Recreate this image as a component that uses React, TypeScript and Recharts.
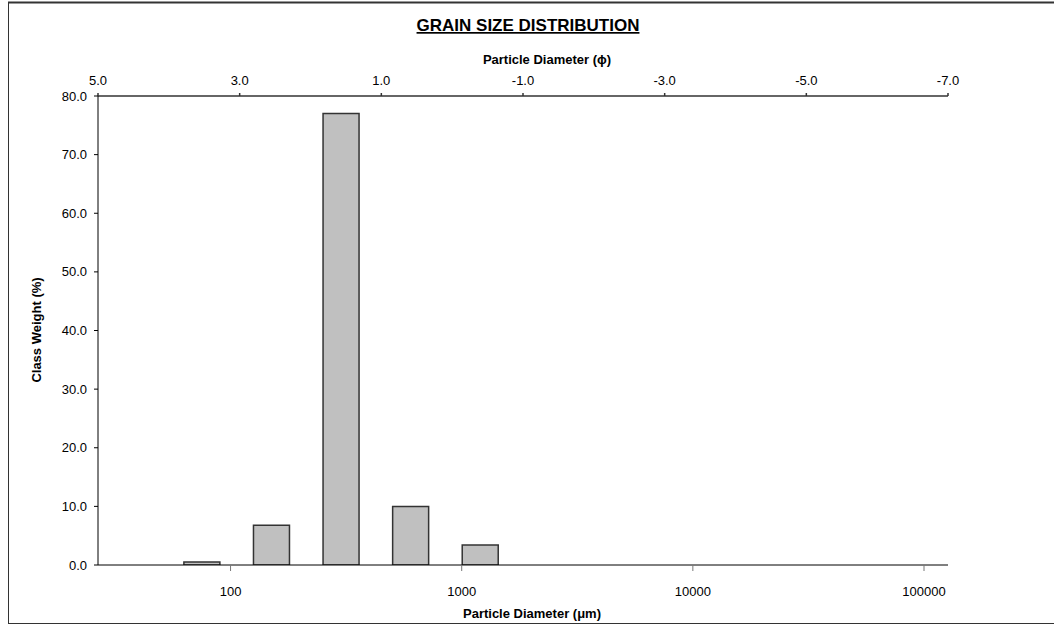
import { ComposedChart, Bar, Scatter, XAxis, YAxis } from 'recharts';

// class midpoints (µm) and weight retained (%)
const sizeClasses = [75, 150, 300, 600, 1200];
const classWeights = [0.5, 6.8, 77.0, 10.0, 3.4];

const phiTicks = [5, 3, 1, -1, -3, -5, -7];
const micronTicks = [100, 1000, 10000, 100000];
const weightTicks = [0, 10, 20, 30, 40, 50, 60, 70, 80];

const data = sizeClasses.map((size, i) => ({ size, weight: classWeights[i] }));
// invisible anchor points so the phi axis has something to scale
const phiAnchors = phiTicks.map((phi) => ({ phi, weight: 0 }));

const font = 'Liberation Sans, Arial, sans-serif';
const tickStyle = { fontSize: 13, fill: '#000', fontFamily: font };

export default function App() {
  return (
    <div style={{ position: 'absolute', left: 0, top: 0, width: 1054, height: 625, background: '#fff', fontFamily: font }}>
      <ComposedChart
        width={1054}
        height={625}
        data={data}
        margin={{ top: 66, right: 106, bottom: 30, left: 38 }}
      >
        <XAxis
          xAxisId="phi"
          dataKey="phi"
          orientation="top"
          type="number"
          domain={[-7, 5]}
          reversed
          ticks={phiTicks}
          tickFormatter={(v: number) => v.toFixed(1)}
          height={30}
          tickSize={3}
          tickMargin={8}
          stroke="#333"
          strokeWidth={1.5}
          tick={tickStyle}
          allowDataOverflow
        />
        <XAxis
          xAxisId="um"
          dataKey="size"
          type="number"
          scale="log"
          domain={[26.7, 127000]}
          ticks={micronTicks}
          allowDataOverflow
          height={30}
          tickSize={6}
          tickMargin={16}
          stroke="#000"
          tick={tickStyle}
          tickLine={{ stroke: '#777' }}
        />
        <YAxis
          yAxisId="w"
          domain={[0, 80]}
          ticks={weightTicks}
          tickFormatter={(v: number) => v.toFixed(1)}
          width={60}
          tickSize={4}
          tickMargin={7}
          stroke="#000"
          tick={tickStyle}
          allowDataOverflow
        />
        <YAxis
          yAxisId="r"
          orientation="right"
          domain={[0, 80]}
          width={0}
          tick={false}
          tickLine={false}
          stroke="#000"
        />
        <Bar
          xAxisId="um"
          yAxisId="w"
          dataKey="weight"
          barSize={36}
          fill="#C0C0C0"
          stroke="#333"
          strokeWidth={1.5}
          isAnimationActive={false}
        />
        <Scatter
          xAxisId="phi"
          yAxisId="w"
          data={phiAnchors}
          dataKey="weight"
          shape={() => <g />}
          legendType="none"
          isAnimationActive={false}
        />
      </ComposedChart>
      <svg
        width={1054}
        height={625}
        style={{ position: 'absolute', left: 0, top: 0, pointerEvents: 'none' }}
      >
        <line x1={8} y1={2.5} x2={1054} y2={2.5} stroke="#333" strokeWidth={2} />
        <line x1={8.5} y1={2} x2={8.5} y2={624} stroke="#333" strokeWidth={1} />
        <line x1={8} y1={623.5} x2={1054} y2={623.5} stroke="#333" strokeWidth={1} />
        <text x={528} y={31} textAnchor="middle" fontSize={17} fontWeight="bold" textDecoration="underline" fontFamily={font}>
          GRAIN SIZE DISTRIBUTION
        </text>
        <text x={547} y={64} textAnchor="middle" fontSize={13} fontWeight="bold" fontFamily={font}>
          Particle Diameter (ϕ)
        </text>
        <text
          x={36}
          y={330}
          textAnchor="middle"
          dominantBaseline="central"
          fontSize={13}
          fontWeight="bold"
          fontFamily={font}
          transform="rotate(-90 36 330)"
        >
          Class Weight (%)
        </text>
        <text x={532} y={618} textAnchor="middle" fontSize={13} fontWeight="bold" fontFamily={font}>
          Particle Diameter (μm)
        </text>
      </svg>
    </div>
  );
}
